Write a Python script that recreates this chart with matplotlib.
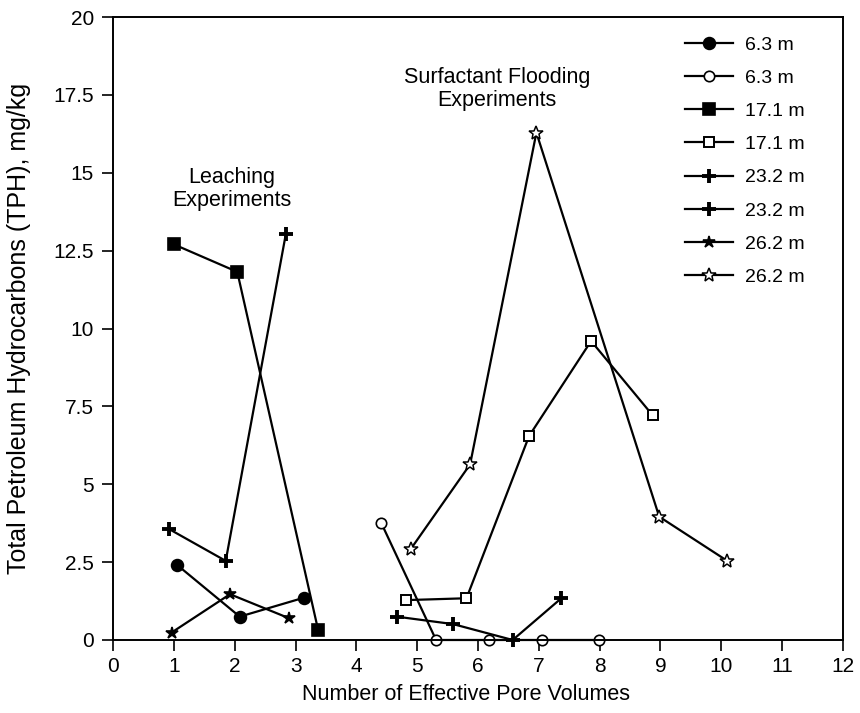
import matplotlib

matplotlib.use("Agg")
import matplotlib.pyplot as plt
from matplotlib.ticker import FuncFormatter

plt.rcParams["font.family"] = ["Liberation Sans", "DejaVu Sans"]

# leaching experiments (filled markers)
leach_63_x = [1.05, 2.08, 3.14]
leach_63_y = [2.41, 0.75, 1.36]
leach_171_x = [1.00, 2.04, 3.37]
leach_171_y = [12.70, 11.82, 0.32]
leach_232_x = [0.92, 1.85, 2.84]
leach_232_y = [3.56, 2.54, 13.05]
leach_262_x = [0.96, 1.92, 2.89]
leach_262_y = [0.24, 1.47, 0.70]

# surfactant flooding experiments (open markers)
surf_63_x = [4.41, 5.31, 6.18, 7.06, 7.99]
surf_63_y = [3.75, 0.0, 0.0, 0.0, 0.0]
surf_171_x = [4.81, 5.81, 6.84, 7.86, 8.87]
surf_171_y = [1.28, 1.34, 6.55, 9.60, 7.22]
surf_232_x = [4.66, 5.59, 6.57, 7.37]
surf_232_y = [0.75, 0.51, 0.0, 1.34]
surf_262_x = [4.89, 5.87, 6.96, 8.98, 10.10]
surf_262_y = [2.91, 5.64, 16.29, 3.96, 2.54]

x_ticks = list(range(0, 13))
y_ticks = [0, 2.5, 5, 7.5, 10, 12.5, 15, 17.5, 20]

# x, y, label, marker, face colour, size, edge width
series = [
    (leach_63_x, leach_63_y, "6.3 m", "o", "black", 8.5, 1.2),
    (surf_63_x, surf_63_y, "6.3 m", "o", "white", 7.5, 1.2),
    (leach_171_x, leach_171_y, "17.1 m", "s", "black", 8.5, 1.2),
    (surf_171_x, surf_171_y, "17.1 m", "s", "white", 7, 1.4),
    (leach_232_x, leach_232_y, "23.2 m", "+", "black", 10, 2.8),
    (surf_232_x, surf_232_y, "23.2 m", "+", "black", 10, 2.8),
    (leach_262_x, leach_262_y, "26.2 m", "*", "black", 9, 1.2),
    (surf_262_x, surf_262_y, "26.2 m", "*", "white", 10, 1.1),
]

fig = plt.figure(figsize=(8.6, 7.13), dpi=100)
ax = fig.add_axes([0.1317, 0.1024, 0.8483, 0.8736])

for xs, ys, label, marker, face, size, mew in series:
    ax.plot(xs, ys, color="black", linewidth=1.6, marker=marker,
            markerfacecolor=face, markeredgecolor="black",
            markeredgewidth=mew, markersize=size, label=label, clip_on=False)

ax.set_xlim(0, 12)
ax.set_ylim(0, 20)
ax.set_xticks(x_ticks)
ax.set_yticks(y_ticks)
ax.yaxis.set_major_formatter(FuncFormatter(lambda v, _: f"{v:g}"))
ax.tick_params(axis="x", direction="out", length=8, width=1.2, pad=4,
               labelsize=15)
ax.tick_params(axis="y", direction="out", length=8, width=1.2, pad=6,
               labelsize=15)
for spine in ax.spines.values():
    spine.set_linewidth(1.4)

ax.set_xlabel("Number of Effective Pore Volumes", fontsize=15.5)
ax.set_ylabel("Total Petroleum Hydrocarbons (TPH), mg/kg", fontsize=18)
ax.xaxis.set_label_coords(0.483, -0.071)
ax.yaxis.set_label_coords(-0.113, 0.5)

ax.text(1.955, 14.49, "Leaching\nExperiments", ha="center", va="center",
        fontsize=15.5, linespacing=1.15)
ax.text(6.31, 17.69, "Surfactant Flooding\nExperiments", ha="center",
        va="center", fontsize=15.5, linespacing=1.15)

ax.legend(loc="upper left", bbox_to_anchor=(0.7725, 0.982),
          borderaxespad=0, frameon=False, fontsize=14, handlelength=2.5,
          handletextpad=0.6, labelspacing=0.8)

fig.savefig("out.png", dpi=100)
